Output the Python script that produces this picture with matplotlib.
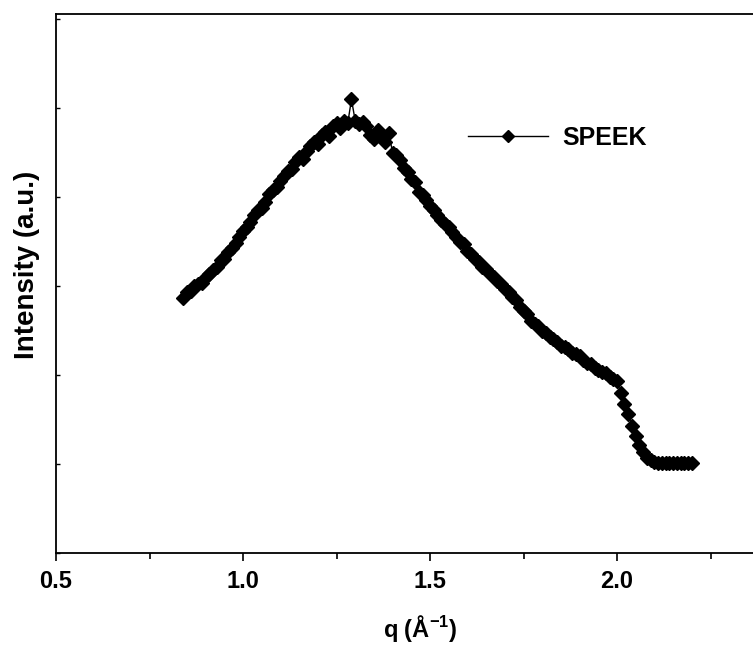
import numpy as np
import matplotlib
matplotlib.use('Agg')
import matplotlib.pyplot as plt
from matplotlib.ticker import MultipleLocator, FormatStrFormatter

# SAXS profile of SPEEK (q in 1/A, intensity in a.u.)
q = np.round(np.arange(0.84, 2.2001, 0.01), 2)
intensity = [
    2.87, 2.93, 2.95, 3.00, 3.03, 3.04, 3.10, 3.14, 3.18, 3.22,   # 0.84-0.93
    3.29, 3.31, 3.38, 3.43, 3.49, 3.55, 3.62, 3.66, 3.72, 3.80,   # 0.94-1.03
    3.86, 3.88, 3.95, 4.04, 4.08, 4.12, 4.18, 4.24, 4.30, 4.32,   # 1.04-1.13
    4.40, 4.45, 4.43, 4.52, 4.58, 4.62, 4.60, 4.70, 4.73, 4.69,   # 1.14-1.23
    4.80, 4.84, 4.78, 4.86, 4.83, 5.10, 4.86, 4.82, 4.85, 4.80,   # 1.24-1.33
    4.70, 4.66, 4.76, 4.68, 4.62, 4.72, 4.50, 4.48, 4.42, 4.33,   # 1.34-1.43
    4.28, 4.20, 4.17, 4.06, 4.02, 3.97, 3.90, 3.86, 3.80, 3.74,   # 1.44-1.53
    3.70, 3.66, 3.61, 3.55, 3.50, 3.47, 3.40, 3.36, 3.31, 3.27,   # 1.54-1.63
    3.22, 3.19, 3.14, 3.10, 3.06, 3.02, 2.97, 2.93, 2.88, 2.84,   # 1.64-1.73
    2.77, 2.72, 2.69, 2.61, 2.58, 2.55, 2.50, 2.47, 2.43, 2.41,   # 1.74-1.83
    2.37, 2.33, 2.32, 2.29, 2.25, 2.24, 2.21, 2.17, 2.14, 2.12,   # 1.84-1.93
    2.08, 2.06, 2.04, 2.02, 1.98, 1.96, 1.93, 1.80, 1.68, 1.56,   # 1.94-2.03
    1.43, 1.32, 1.21, 1.13, 1.07, 1.04, 1.02, 1.01, 1.01, 1.01,   # 2.04-2.13
    1.01, 1.01, 1.01, 1.01, 1.01, 1.01, 1.01,                     # 2.14-2.20
]
xticks = [0.5, 1.0, 1.5, 2.0]

plt.rcParams['font.family'] = ['Liberation Sans', 'DejaVu Sans']
plt.rcParams['font.weight'] = 'bold'
plt.rcParams['mathtext.fontset'] = 'custom'
plt.rcParams['mathtext.rm'] = 'Liberation Sans:bold'
plt.rcParams['mathtext.default'] = 'rm'

fig = plt.figure(figsize=(7.53, 6.48), dpi=100)
ax = fig.add_axes([56/753, 95/648, 748/753, 539/648])

ax.plot(q, intensity, color='black', lw=1.0, marker='D', ms=7.5,
        mfc='black', mec='black', label='SPEEK')

ax.set_xlim(0.5, 2.5)
ax.set_ylim(0, 6.06)
ax.set_xticks(xticks)
ax.xaxis.set_minor_locator(MultipleLocator(0.25))
ax.yaxis.set_major_locator(MultipleLocator(1))
ax.tick_params(axis='x', which='major', direction='out', length=6, width=1.2,
               labelsize=17, pad=6)
ax.tick_params(axis='x', which='minor', direction='out', length=4, width=1.2)
ax.tick_params(axis='y', direction='in', length=3, width=1, labelleft=False)
ax.xaxis.set_major_formatter(FormatStrFormatter('%.1f'))
for s in ax.spines.values():
    s.set_linewidth(1.3)

ax.set_xlabel('q (Å$^{-1}$)', fontsize=17, fontweight='bold')
ax.set_ylabel('Intensity (a.u.)', fontsize=20, fontweight='bold')
ax.xaxis.set_label_coords(0.487, -0.112)
ax.yaxis.set_label_coords(-0.039, 0.535)
ax.yaxis.label.set_va('center')

leg = ax.legend(loc='center left', bbox_to_anchor=(0.551, 0.77), frameon=False,
                fontsize=18, handlelength=3.2, handletextpad=0.55,
                borderpad=0, borderaxespad=0, markerscale=0.75)
for t in leg.get_texts():
    t.set_fontweight('bold')

fig.savefig('out.png', dpi=100)
